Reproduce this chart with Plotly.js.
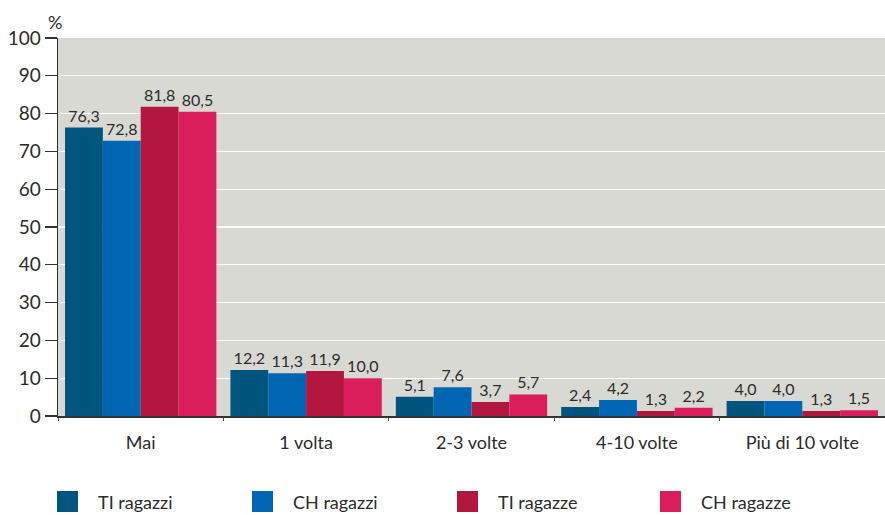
<!DOCTYPE html>
<html><head><meta charset="utf-8">
<script src="https://cdn.plot.ly/plotly-3.0.1.min.js"></script>
<style>html,body{margin:0;padding:0;background:#fff;}#chart{width:885px;height:515px;}</style>
</head><body><div id="chart"></div>
<script>
const categories = ["Mai", "1 volta", "2-3 volte", "4-10 volte", "Più di 10 volte"];
const seriesNames = ["TI ragazzi", "CH ragazzi", "TI ragazze", "CH ragazze"];
const tiRagazzi = [76.3, 12.2, 5.1, 2.4, 4.0];
const chRagazzi = [72.8, 11.3, 7.6, 4.2, 4.0];
const tiRagazze = [81.8, 11.9, 3.7, 1.3, 1.3];
const chRagazze = [80.5, 10.0, 5.7, 2.2, 1.5];
const yTicks = [0, 10, 20, 30, 40, 50, 60, 70, 80, 90, 100];
const colors = ["#00557f", "#0066b3", "#b3163e", "#d91e5b"];
const values = [tiRagazzi, chRagazzi, tiRagazze, chRagazze];

const FONT = "Lato, 'Open Sans', sans-serif";
const traces = values.map((v, i) => ({
  type: "bar", name: seriesNames[i], x: categories, y: v,
  marker: {color: colors[i], line: {width: 0}},
  texttemplate: "%{y:.1f}", textposition: "outside", cliponaxis: false,
  textfont: {family: FONT, size: 16, color: "#2b2b2b"},
  hoverinfo: "skip", showlegend: false
}));

// legend built from series names
const shapes = [], annotations = [];
const legX = [57, 252, 457, 660];
seriesNames.forEach((n, i) => {
  shapes.push({type: "rect", xref: "paper", yref: "paper",
    x0: (legX[i]-58)/827, x1: (legX[i]+21-58)/827,
    y0: -(491-416)/378, y1: -(512-416)/378,
    fillcolor: colors[i], line: {width: 0}});
  annotations.push({xref: "paper", yref: "paper", x: (legX[i]+39-58)/827, y: -(502-416)/378,
    xanchor: "left", yanchor: "middle", text: n, showarrow: false,
    font: {family: FONT, size: 18, color: "#2b2b2b"}});
});
annotations.push({xref: "paper", yref: "paper", x: (55-58)/827, y: 1 + (38-22)/378,
  xanchor: "center", yanchor: "middle", text: "%", showarrow: false,
  font: {family: FONT, size: 18, color: "#2b2b2b"}});

const layout = {
  width: 885, height: 515,
  margin: {l: 58, r: 0, t: 38, b: 99, pad: 0},
  paper_bgcolor: "#ffffff", plot_bgcolor: "#d9d9d4",
  separators: ",.",
  barmode: "group", bargap: 0.085, bargroupgap: 0,
  showlegend: false,
  font: {family: FONT, color: "#2b2b2b"},
  xaxis: {
    tickfont: {family: FONT, size: 18, color: "#2b2b2b"},
    showline: true, linecolor: "#333", linewidth: 1.5,
    ticks: "outside", tickson: "boundaries", ticklen: 3, tickcolor: "#555",
    ticklabelstandoff: 10,
    showgrid: false, zeroline: false, fixedrange: true
  },
  yaxis: {
    range: [0, 100], tickvals: yTicks,
    tickfont: {family: FONT, size: 19, color: "#2b2b2b"},
    showline: true, linecolor: "#333", linewidth: 1.5,
    ticks: "outside", ticklen: 12, tickcolor: "#333", tickwidth: 1.2,
    showgrid: true, gridcolor: "#ffffff", gridwidth: 1.2,
    zeroline: false, fixedrange: true
  },
  shapes: shapes, annotations: annotations
};
Plotly.newPlot("chart", traces, layout, {displayModeBar: false, staticPlot: true});
</script></body></html>
